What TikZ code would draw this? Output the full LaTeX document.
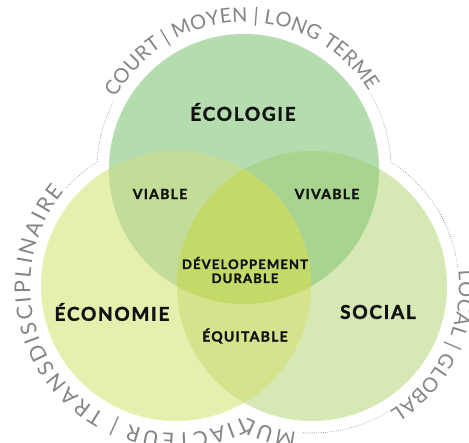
\documentclass[tikz,border=0pt]{standalone}
\usepackage{fontspec}
\setmainfont{Lato}
\newfontfamily\lblfont[LetterSpace=9, FakeBold=1.8]{Lato}
\newfontfamily\outfont{Lato}
\usetikzlibrary{decorations.text,calc}
\definecolor{cT}{HTML}{B5DCAE}
\definecolor{cL}{HTML}{E5EFAE}
\definecolor{cR}{HTML}{D6E8B3}
\definecolor{cTL}{HTML}{C3DC97}
\definecolor{cTR}{HTML}{A8D48F}
\definecolor{cLR}{HTML}{D5E48C}
\definecolor{cC}{HTML}{C3D96A}
\definecolor{outgray}{HTML}{858585}
\definecolor{lbl}{HTML}{111111}
\tikzset{
  bigl/.style={font=\lblfont\bfseries\fontsize{19}{21}\selectfont, text=lbl, inner sep=0pt},
  smalll/.style={font=\lblfont\bfseries\fontsize{14}{16}\selectfont, text=lbl, inner sep=0pt},
  midl/.style={font=\lblfont\bfseries\fontsize{13}{15}\selectfont, text=lbl, inner sep=0pt, align=center},
  dotline/.style={draw=outgray, line width=0.9pt, line cap=round, dash pattern=on 0pt off 2.2pt},
}
\begin{document}
\begin{tikzpicture}[x=1pt,y=1pt]
\useasboundingbox (0,0) rectangle (469,443);
\fill[white] (0,0) rectangle (469,443);
\coordinate (T) at (244,274);
\coordinate (L) at (176,157);
\coordinate (R) at (312,157);
\def\rr{135}
\def\ro{147}
% circles
\fill[cL] (L) circle[radius=\rr];
\fill[cR] (R) circle[radius=\rr];
\fill[cT] (T) circle[radius=\rr];
\begin{scope}
  \clip (T) circle[radius=\rr];
  \fill[cTL] (L) circle[radius=\rr];
  \fill[cTR] (R) circle[radius=\rr];
\end{scope}
\begin{scope}
  \clip (L) circle[radius=\rr];
  \fill[cLR] (R) circle[radius=\rr];
  \clip (T) circle[radius=\rr];
  \fill[cC] (R) circle[radius=\rr];
\end{scope}
% dotted outline
\path[dotline] (T) ++(177.1:\ro) arc[start angle=177.1, end angle=153, radius=\ro];
\path[dotline] (T) ++(31:\ro) arc[start angle=31, end angle=2.9, radius=\ro];
\path[dotline] (R) ++(57.4:\ro) arc[start angle=57.4, end angle=7, radius=\ro];
\path[dotline] (R) ++(-59:\ro) arc[start angle=-59, end angle=-94, radius=\ro];
\path[dotline] (L) ++(-222:\ro) arc[start angle=-222, end angle=-237.4, radius=\ro];
% outer texts
\path[decorate, decoration={text along path, text align=fit to path,
  text={|\outfont\fontsize{20}{22}\selectfont\color{outgray}|COURT {\textbar} MOYEN {\textbar} LONG TERME}}]
  (T) ++(151:\ro) arc[start angle=151, end angle=32, radius=\ro];
\path[decorate, decoration={text along path, text align=fit to path,
  text={|\outfont\fontsize{20}{22}\selectfont\color{outgray}|LOCAL {\textbar} GLOBAL}}]
  (R) ++(6:\ro) arc[start angle=6, end angle=-58, radius=\ro];
\path[decorate, decoration={text along path, text align=fit to path,
  text={|\outfont\fontsize{21.5}{24}\selectfont\color{outgray}|MULTIACTEUR {\textbar} TRANSDISCIPLINAIRE}}]
  (R) ++(-96:\ro) arc[start angle=-96, end angle=-117.3, radius=\ro]
  arc[start angle=-62.7, end angle=-220, radius=\ro];
% labels
\node[bigl] (eco) at (243,331) {ÉCOLOGIE};
\node[bigl] (econ) at (112,131) {ÉCONOMIE};
\node[bigl] (soc) at (378,131) {SOCIAL};
\node[smalll] (via) at (160,249) {VIABLE};
\node[smalll] (viv) at (327,249) {VIVABLE};
\node[midl] (dd) at (245,173) {DÉVELOPPEMENT\\[-1pt]DURABLE};
\node[smalll] (equ) at (245,107) {ÉQUITABLE};
\end{tikzpicture}
\end{document}
